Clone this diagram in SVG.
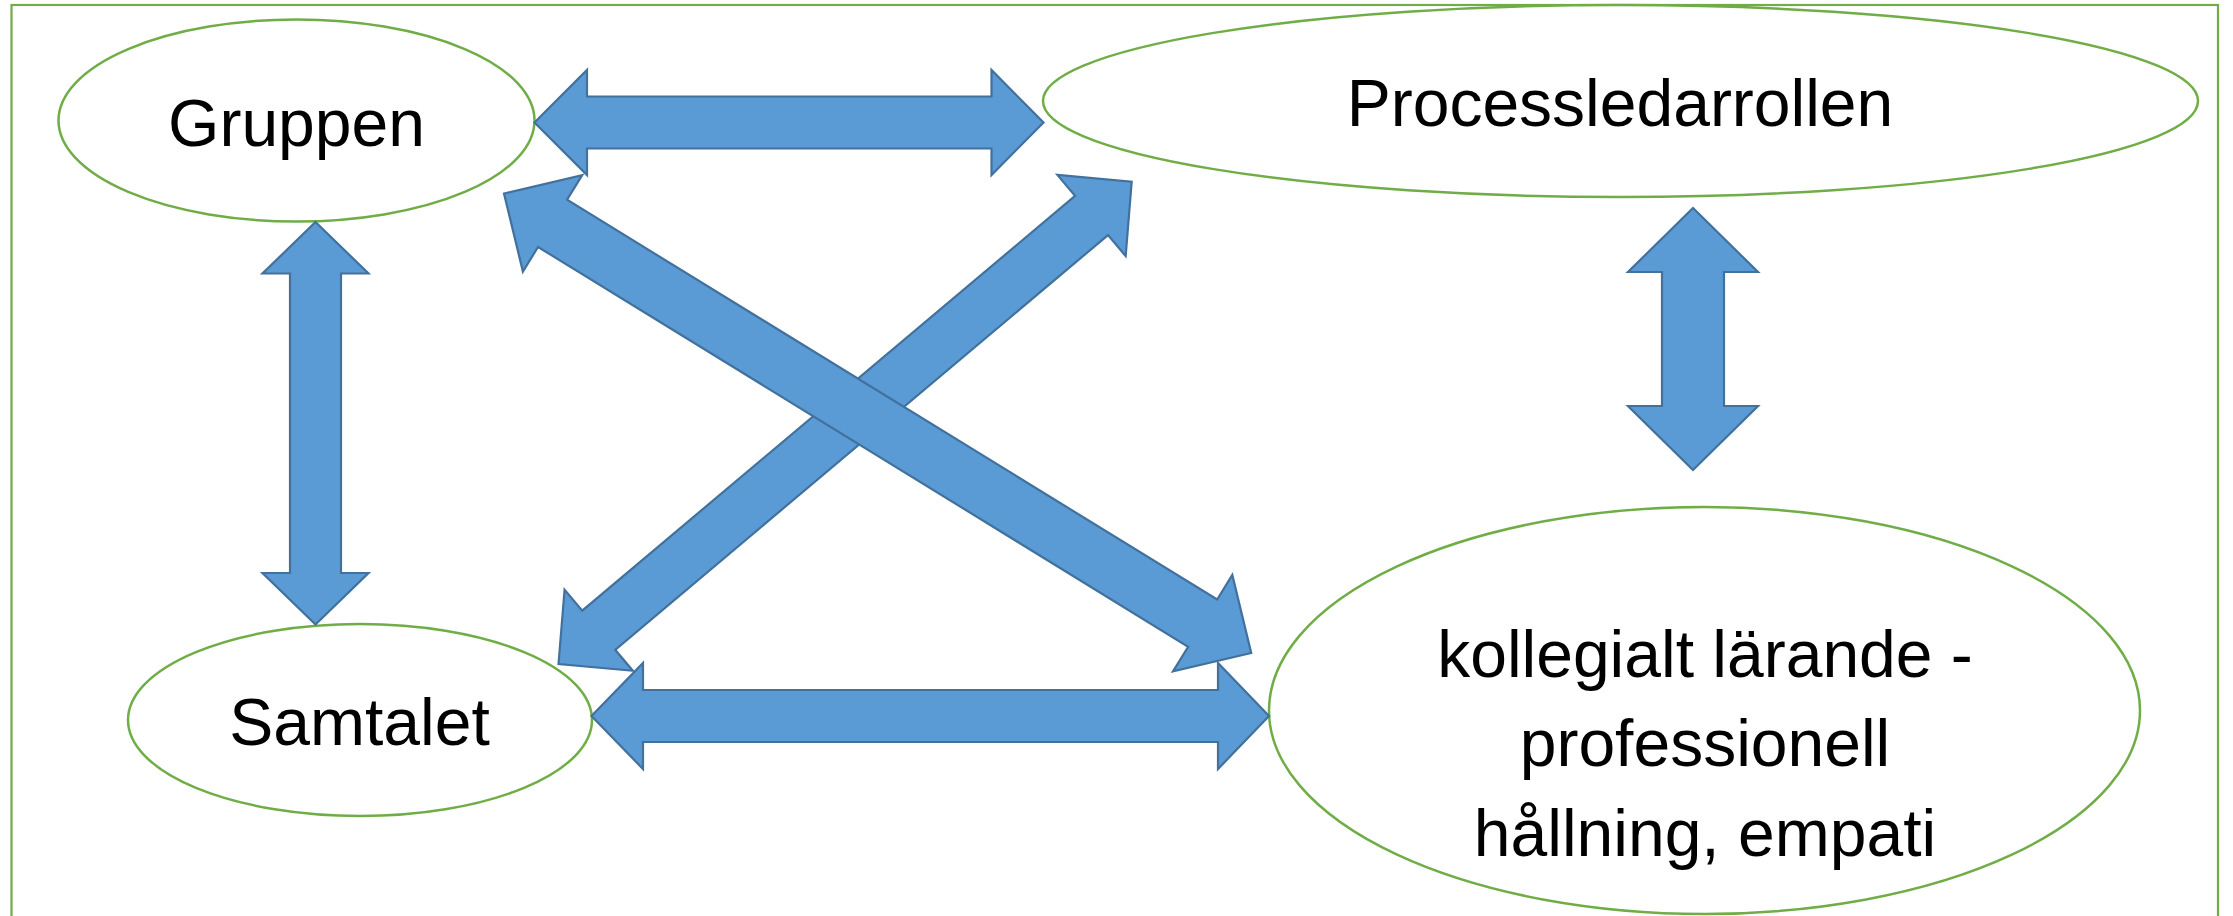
<svg xmlns="http://www.w3.org/2000/svg" width="2233" height="916" viewBox="0 0 2233 916">
<style>
.frame{fill:#FFFFFF;stroke:#70AD47;stroke-width:2.2}
.node{fill:#FFFFFF;stroke:#70AD47;stroke-width:2.5}
.lbl{font-family:"Liberation Sans",Arial,sans-serif;font-size:66px;fill:#000000;text-anchor:middle}
.arr{fill:#5B9BD5;stroke:#41719C;stroke-width:2.2;stroke-linejoin:miter}
</style>
<rect width="2233" height="916" fill="#FFFFFF"/>
<rect class="frame" x="11.5" y="5" width="2206.5" height="940"/>
<g id="node-gruppen">
<ellipse class="node" cx="296.5" cy="120.5" rx="238" ry="101"/>
<text class="lbl" x="296.5" y="146">Gruppen</text>
</g>
<g id="node-processledarrollen">
<ellipse class="node" cx="1620.5" cy="101" rx="577.5" ry="96"/>
<text class="lbl" x="1620" y="126">Processledarrollen</text>
</g>
<g id="node-samtalet">
<ellipse class="node" cx="360" cy="720" rx="232" ry="96"/>
<text class="lbl" x="359.5" y="745">Samtalet</text>
</g>
<g id="node-kollegialt">
<ellipse class="node" cx="1704.5" cy="710.5" rx="435.5" ry="203.5"/>
<text class="lbl" x="1705" y="677">kollegialt lärande -</text>
<text class="lbl" x="1705" y="766">professionell</text>
<text class="lbl" x="1705" y="856">hållning, empati</text>
</g>
<g id="connectors">
<polygon class="arr" points="534.5,122.5 587,70 587,96.5 991.5,96.5 991.5,70 1043.5,122.5 991.5,175 991.5,148.5 587,148.5 587,175"/>
<polygon class="arr" points="315.5,222 368.5,273.5 341,273.5 341,573 368.5,573 315.5,624.5 262.5,573 290,573 290,273.5 262.5,273.5"/>
<polygon class="arr" points="1693,208 1758,272 1724,272 1724,406 1758,406 1693,470 1628,406 1662,406 1662,272 1628,272"/>
<polygon class="arr" points="591.5,716 643,663 643,690 1218,690 1218,663 1269,716 1218,769 1218,742 643,742 643,769"/>
<polygon class="arr" transform="translate(1131.7,181.7) rotate(139.92)" points="0,0 52.5,-53 52.5,-25.6 696.6,-25.6 696.6,-53 749.1,0 696.6,53 696.6,25.6 52.5,25.6 52.5,53"/>
<polygon class="arr" transform="translate(504,193.5) rotate(31.59)" points="0,0 57,-56.6 57,-27.7 820.2,-27.7 820.2,-56.6 877.2,0 820.2,56.6 820.2,27.7 57,27.7 57,56.6"/>
</g>
</svg>
